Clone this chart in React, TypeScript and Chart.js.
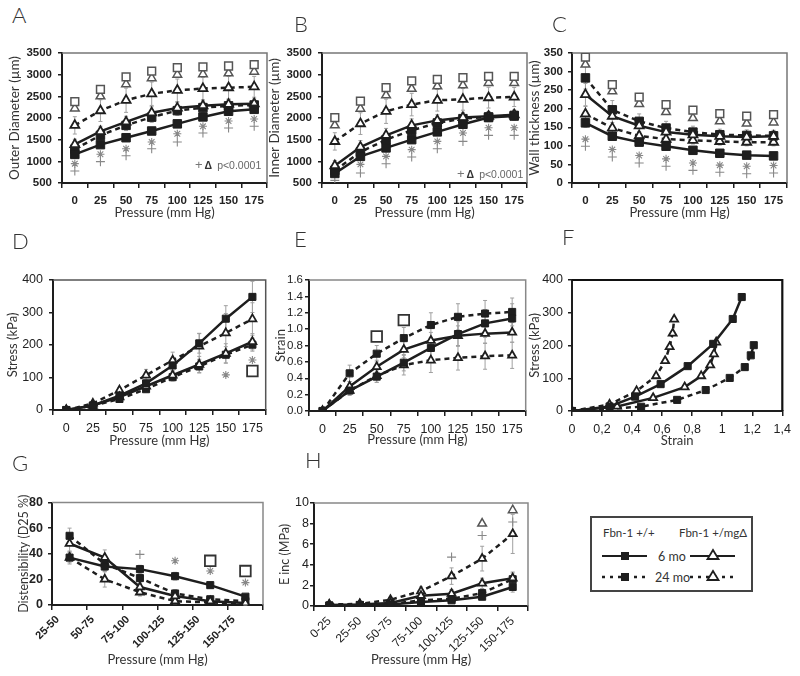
import React, { useEffect, useRef } from 'react';
import { Chart, registerables } from 'chart.js';

// ---------- plugins ----------
const errorBarPlugin = {
  id: 'errbars',
  beforeDatasetsDraw(chart: any) {
    const { ctx } = chart;
    chart.data.datasets.forEach((ds: any, i: number) => {
      if (!ds.errors) return;
      const meta = chart.getDatasetMeta(i);
      const ys = chart.scales[meta.yAxisID];
      ctx.save();
      ctx.strokeStyle = '#a0a0a0';
      ctx.lineWidth = 1;
      meta.data.forEach((pt: any, j: number) => {
        const e = ds.errors[j];
        const raw = ds.data[j];
        if (!e || raw == null) return;
        const v = typeof raw === 'object' ? raw.y : raw;
        const y1 = ys.getPixelForValue(v - e);
        const y2 = ys.getPixelForValue(v + e);
        ctx.beginPath();
        ctx.moveTo(pt.x, y1); ctx.lineTo(pt.x, y2);
        ctx.moveTo(pt.x - 2, y2); ctx.lineTo(pt.x + 2, y2);
        ctx.moveTo(pt.x - 2, y1); ctx.lineTo(pt.x + 2, y1);
        ctx.stroke();
      });
      ctx.restore();
    });
  },
};

const framePlugin = {
  id: 'frame',
  beforeDatasetsDraw(chart: any, _args: any, opts: any) {
    if (!opts || !opts.color) return;
    const { ctx, chartArea: a } = chart;
    ctx.save();
    ctx.strokeStyle = opts.color;
    ctx.lineWidth = opts.width || 1.5;
    ctx.beginPath();
    ctx.moveTo(a.left, a.top);
    ctx.lineTo(a.right, a.top);
    ctx.lineTo(a.right, a.bottom);
    ctx.stroke();
    ctx.restore();
  },
};

Chart.register(...registerables, errorBarPlugin, framePlugin);

// ---------- data ----------
const PRESSURES = ['0', '25', '50', '75', '100', '125', '150', '175'];
const RANGES_G = ['25-50', '50-75', '75-100', '100-125', '125-150', '150-175'];
const RANGES_H = ['0-25', '25-50', '50-75', '75-100', '100-125', '125-150', '150-175'];

// A: outer diameter (µm)
const A_WT6 = [1160, 1385, 1545, 1700, 1865, 2025, 2155, 2200];
const A_MG6 = [1390, 1690, 1910, 2120, 2230, 2285, 2315, 2330];
const A_WT24 = [1280, 1600, 1830, 2020, 2170, 2240, 2280, 2300];
const A_MG24 = [1830, 2170, 2410, 2560, 2640, 2680, 2700, 2720];
const A_WT6_ERR = [90, 60, 60, 60, 70, 70, 70, 70];
const A_MG6_ERR = [120, 120, 130, 140, 130, 110, 110, 110];
const A_WT24_ERR = [100, 110, 120, 120, 110, 110, 110, 110];
const A_MG24_ERR = [200, 250, 280, 270, 260, 260, 260, 240];
const A_SQ = [2380, 2660, 2950, 3080, 3160, 3180, 3200, 3230];
const A_TRI = [2220, 2500, 2780, 2920, 3000, 3010, 3030, 3070];
const A_AST = [946, 1162, 1292, 1446, 1638, 1808, 1930, 1977];
const A_PLUS = [777, 993, 1130, 1292, 1446, 1654, 1770, 1808];

// B: inner diameter (µm)
const B_WT6 = [720, 1115, 1310, 1500, 1680, 1855, 2010, 2045];
const B_MG6 = [900, 1330, 1600, 1830, 1945, 2010, 2040, 2075];
const B_WT24 = [790, 1215, 1500, 1715, 1885, 1985, 2025, 2060];
const B_MG24 = [1460, 1870, 2155, 2310, 2410, 2430, 2470, 2485];
const B_WT6_ERR = [80, 70, 70, 70, 70, 70, 70, 70];
const B_MG6_ERR = [120, 150, 160, 150, 130, 120, 110, 110];
const B_WT24_ERR = [100, 110, 120, 120, 110, 110, 110, 110];
const B_MG24_ERR = [200, 250, 280, 260, 250, 250, 240, 220];
const B_SQ = [2010, 2390, 2700, 2855, 2890, 2930, 2960, 2960];
const B_TRI = [1830, 2215, 2525, 2675, 2730, 2755, 2810, 2810];
const B_AST = [730, 930, 1115, 1270, 1460, 1655, 1775, 1775];
const B_PLUS = [560, 730, 945, 1100, 1290, 1460, 1600, 1600];

// C: wall thickness (µm)
const C_WT6 = [162, 126, 110, 99, 88, 80, 75, 73];
const C_MG6 = [238, 180, 154, 137, 130, 126, 124, 126];
const C_WT24 = [283, 197, 166, 148, 137, 130, 128, 127];
const C_MG24 = [186, 148, 127, 118, 115, 112, 110, 110];
const C_WT6_ERR = [12, 10, 8, 8, 6, 6, 6, 6];
const C_MG6_ERR = [30, 25, 18, 15, 15, 14, 14, 14];
const C_WT24_ERR = [30, 25, 20, 18, 16, 15, 15, 15];
const C_MG24_ERR = [20, 15, 12, 12, 10, 10, 10, 10];
const C_SQ = [339, 265, 231, 211, 196, 187, 180, 184];
const C_TRI = [319, 247, 213, 191, 175, 166, 160, 163];
const C_AST = [118, 90, 74, 65, 54, 48, 45, 47];
const C_PLUS = [99, 70, 54, 45, 34, 29, 25, 27];

// D: stress (kPa)
const D_WT6 = [0, 14, 44, 82, 137, 205, 281, 348];
const D_MG6 = [0, 14, 40, 73, 107, 140, 174, 210];
const D_WT24 = [0, 13, 34, 64, 101, 134, 170, 201];
const D_MG24 = [0, 20, 61, 107, 153, 196, 237, 280];
const D_WT6_ERR = [0, 3, 6, 10, 15, 30, 40, 48];
const D_MG6_ERR = [0, 3, 6, 8, 12, 25, 30, 25];
const D_WT24_ERR = [0, 3, 5, 8, 12, 20, 25, 20];
const D_MG24_ERR = [0, 4, 8, 18, 25, 40, 60, 50];
const D_AST = [null, null, null, null, null, null, 108, 154];
const D_SQ = [null, null, null, null, null, null, null, 120];

// E: strain
const E_WT6 = [0, 0.25, 0.42, 0.59, 0.77, 0.94, 1.07, 1.13];
const E_MG6 = [0, 0.3, 0.54, 0.75, 0.86, 0.92, 0.945, 0.96];
const E_WT24 = [0, 0.46, 0.7, 0.89, 1.05, 1.15, 1.19, 1.21];
const E_MG24 = [0, 0.25, 0.43, 0.56, 0.62, 0.65, 0.67, 0.68];
const E_WT6_ERR = [0, 0.05, 0.07, 0.1, 0.12, 0.15, 0.17, 0.18];
const E_MG6_ERR = [0, 0.06, 0.08, 0.1, 0.1, 0.12, 0.12, 0.12];
const E_WT24_ERR = [0, 0.1, 0.1, 0.13, 0.15, 0.16, 0.16, 0.17];
const E_MG24_ERR = [0, 0.06, 0.08, 0.12, 0.15, 0.15, 0.16, 0.16];
const E_SQ = [null, null, 0.91, 1.11, null, null, null, null];

// G: distensibility (D25 %)
const G_WT6 = [37, 30, 28, 22.5, 15.5, 6.5];
const G_MG6 = [48, 37, 14, 7, 3, 1.5];
const G_WT24 = [54, 32, 21, 9, 4.5, 3];
const G_MG24 = [37, 20, 10, 3, 2, 1];
const G_WT6_ERR = [4, 4, 3, 3, 2, 1];
const G_MG6_ERR = [6, 6, 4, 2, 1, 1];
const G_WT24_ERR = [6, 5, 4, 3, 2, 1];
const G_MG24_ERR = [5, 6, 3, 2, 1, 1];
const G_PLUS = [null, null, 39.5, null, null, null];
const G_AST = [null, null, null, 34.5, 26.5, 17.5];
const G_SQ = [null, null, null, null, 34.5, 26.5];

// H: E inc (MPa)
const H_WT6 = [0.05, 0.1, 0.15, 0.4, 0.55, 0.9, 1.85];
const H_MG6 = [0.1, 0.15, 0.3, 1.0, 1.2, 2.2, 2.7];
const H_WT24 = [0.05, 0.1, 0.2, 0.55, 0.7, 1.25, 2.6];
const H_MG24 = [0.15, 0.2, 0.6, 1.45, 2.9, 4.6, 7.0];
const H_WT6_ERR = [0, 0, 0.05, 0.2, 0.2, 0.3, 0.5];
const H_MG6_ERR = [0, 0, 0.1, 0.3, 0.4, 0.5, 0.6];
const H_WT24_ERR = [0, 0, 0.1, 0.2, 0.3, 0.4, 0.6];
const H_MG24_ERR = [0.05, 0.05, 0.2, 0.4, 0.8, 1.2, 1.9];
const H_TRI = [null, null, null, null, null, 8.0, 9.3];
const H_PLUS = [null, null, null, null, 4.75, 6.85, 8.15];

// ---------- styling helpers ----------
const INK = '#1e1e1e';
const LATO = 'Lato, "Open Sans", sans-serif';
const BOLD_TICK = { family: '"Liberation Sans", Arial, sans-serif', size: 11.5, weight: 'bold' };
const THIN_TICK = { family: '"Liberation Sans Narrow", "Liberation Sans", Arial, sans-serif', size: 12.5 };
const THIN_TICK_S = { family: '"Liberation Sans Narrow", "Liberation Sans", Arial, sans-serif', size: 11.5 };
const THIN_TICK_H = { family: '"Liberation Sans Narrow", "Liberation Sans", Arial, sans-serif', size: 12 };
const BOLD_TICK_G = { family: '"Liberation Sans", Arial, sans-serif', size: 11, weight: 'bold' };

function series(kind: string, data: any[], errors: number[] | null, big = false) {
  const tri = kind === 'mg6' || kind === 'mg24';
  const dashed = kind === 'wt24' || kind === 'mg24';
  return {
    data,
    errors,
    borderColor: INK,
    borderWidth: 2.5,
    borderDash: dashed ? [5, 4] : [],
    pointStyle: tri ? 'triangle' : 'rect',
    pointRadius: tri ? (big ? 5.2 : 4.6) : big ? 6 : 5,
    pointBackgroundColor: tri ? '#ffffff' : INK,
    pointBorderColor: INK,
    pointBorderWidth: tri ? 1.8 : 1,
    fill: false,
    tension: 0,
  };
}

function marks(kind: string, data: any[]) {
  const styles: any = {
    sq: { pointStyle: 'rect', pointRadius: 5.5, pointBackgroundColor: '#fff', pointBorderColor: '#555', pointBorderWidth: 1.5 },
    big: { pointStyle: 'rect', pointRadius: 7.5, pointBackgroundColor: '#fff', pointBorderColor: '#333', pointBorderWidth: 1.8 },
    tri: { pointStyle: 'triangle', pointRadius: 5, pointBackgroundColor: '#fff', pointBorderColor: '#555', pointBorderWidth: 1.5 },
    ast: { pointStyle: 'star', pointRadius: 4, pointBorderColor: '#888', pointBorderWidth: 1.1 },
    plus: { pointStyle: 'cross', pointRadius: 4.5, pointBorderColor: '#888', pointBorderWidth: 1.1 },
  };
  return { data, showLine: false, ...styles[kind] };
}

type Geo = { cl: number; ct: number; cw: number; ch: number; pl: number; pt: number; pr: number; pb: number };

function baseOptions(g: Geo, frame: string, frameWidth = 1.5) {
  return {
    responsive: false,
    animation: false,
    layout: { padding: { left: 0, top: g.pt - g.ct, right: g.cl + g.cw - g.pr, bottom: 0 } },
    plugins: { legend: { display: false }, tooltip: { enabled: false }, frame: { color: frame, width: frameWidth } },
  };
}

function yScale(g: Geo, o: any) {
  return {
    type: 'linear',
    min: o.min,
    max: o.max,
    grid: { drawOnChartArea: false, tickLength: 4, color: INK, lineWidth: 1.5 },
    border: { color: INK, width: 2 },
    ticks: { stepSize: o.step, autoSkip: false, font: o.font, color: '#222', padding: o.pad, callback: o.fmt || ((v: any) => String(v)) },
    title: { display: true, text: o.title, font: { family: LATO, size: o.titleSize || 13 }, color: '#333', padding: { top: o.titlePad, bottom: 0 } },
    afterFit: (s: any) => { s.width = g.pl - g.cl; },
  };
}

function xCat(g: Geo, o: any) {
  return {
    type: 'category',
    offset: true,
    grid: { offset: true, drawOnChartArea: false, tickLength: 5, color: INK, lineWidth: 1.5 },
    border: { color: INK, width: 2 },
    ticks: {
      font: o.font, color: '#222', padding: o.pad, autoSkip: false,
      maxRotation: o.rot || 0, minRotation: o.rot || 0, labelOffset: o.labelOffset || 0,
    },
    title: { display: true, text: o.title || 'Pressure (mm Hg)', font: { family: LATO, size: 13 }, color: '#333', padding: { top: 0, bottom: o.titlePad } },
    afterFit: (s: any) => { s.height = g.ct + g.ch - g.pb; },
  };
}

// ---------- geometry ----------
const GEO_A: Geo = { cl: 0, ct: 40, cw: 275, ch: 188, pl: 62, pt: 53, pr: 267, pb: 183 };
const GEO_B: Geo = { cl: 260, ct: 40, cw: 275, ch: 188, pl: 322, pt: 53, pr: 527, pb: 183 };
const GEO_C: Geo = { cl: 520, ct: 40, cw: 275, ch: 188, pl: 572, pt: 53, pr: 787, pb: 183 };
const GEO_D: Geo = { cl: 0, ct: 265, cw: 275, ch: 185, pl: 53, pt: 280, pr: 267, pb: 410 };
const GEO_E: Geo = { cl: 270, ct: 265, cw: 265, ch: 185, pl: 309, pt: 280, pr: 527, pb: 411 };
const GEO_F: Geo = { cl: 522, ct: 265, cw: 275, ch: 185, pl: 572, pt: 280, pr: 785, pb: 411 };
const GEO_G: Geo = { cl: 8, ct: 490, cw: 265, ch: 182, pl: 52, pt: 502, pr: 263, pb: 605 };
const GEO_H: Geo = { cl: 270, ct: 490, cw: 268, ch: 182, pl: 314, pt: 503, pr: 528, pb: 606 };

function diamConfig(g: Geo, title: string, wt6: number[], mg6: number[], wt24: number[], mg24: number[], errs: number[][], sq: number[], tri: number[], ast: number[], plus: number[], min: number, max: number, step: number, ypad: number) {
  return {
    type: 'line',
    data: {
      labels: PRESSURES,
      datasets: [
        series('wt6', wt6, errs[0], true),
        series('mg6', mg6, errs[1], true),
        series('wt24', wt24, errs[2], true),
        series('mg24', mg24, errs[3], true),
        marks('sq', sq),
        marks('tri', tri),
        marks('ast', ast),
        marks('plus', plus),
      ],
    },
    options: {
      ...baseOptions(g, '#777'),
      scales: {
        x: xCat(g, { font: BOLD_TICK, pad: 6, titlePad: 7 }),
        y: yScale(g, { min, max, step, font: BOLD_TICK, pad: ypad, title, titleSize: 13.5, titlePad: 7 }),
      },
    },
  };
}

const CONFIG_A = diamConfig(GEO_A, 'Outer Diameter (µm)', A_WT6, A_MG6, A_WT24, A_MG24, [A_WT6_ERR, A_MG6_ERR, A_WT24_ERR, A_MG24_ERR], A_SQ, A_TRI, A_AST, A_PLUS, 500, 3500, 500, 6);
const CONFIG_B = diamConfig(GEO_B, 'Inner Diameter (µm)', B_WT6, B_MG6, B_WT24, B_MG24, [B_WT6_ERR, B_MG6_ERR, B_WT24_ERR, B_MG24_ERR], B_SQ, B_TRI, B_AST, B_PLUS, 500, 3500, 500, 6);
const CONFIG_C = diamConfig(GEO_C, 'Wall thickness (µm)', C_WT6, C_MG6, C_WT24, C_MG24, [C_WT6_ERR, C_MG6_ERR, C_WT24_ERR, C_MG24_ERR], C_SQ, C_TRI, C_AST, C_PLUS, 0, 350, 50, 5);

const CONFIG_D = {
  type: 'line',
  data: {
    labels: PRESSURES,
    datasets: [
      series('wt6', D_WT6, D_WT6_ERR),
      series('mg6', D_MG6, D_MG6_ERR),
      series('wt24', D_WT24, D_WT24_ERR),
      series('mg24', D_MG24, D_MG24_ERR),
      marks('ast', D_AST),
      marks('big', D_SQ),
    ],
  },
  options: {
    ...baseOptions(GEO_D, '#555'),
    scales: {
      x: xCat(GEO_D, { font: THIN_TICK, pad: 6, titlePad: 1 }),
      y: yScale(GEO_D, { min: 0, max: 400, step: 100, font: THIN_TICK, pad: 6, title: 'Stress (kPa)', titlePad: 5 }),
    },
  },
};

const CONFIG_E = {
  type: 'line',
  data: {
    labels: PRESSURES,
    datasets: [
      series('wt6', E_WT6, E_WT6_ERR),
      series('mg6', E_MG6, E_MG6_ERR),
      series('wt24', E_WT24, E_WT24_ERR),
      series('mg24', E_MG24, E_MG24_ERR),
      marks('big', E_SQ),
    ],
  },
  options: {
    ...baseOptions(GEO_E, '#888'),
    scales: {
      x: xCat(GEO_E, { font: THIN_TICK, pad: 6, titlePad: 2 }),
      y: yScale(GEO_E, { min: 0, max: 1.6, step: 0.2, font: THIN_TICK_S, pad: 2, title: 'Strain', titlePad: 3, fmt: (v: any) => Number(v).toFixed(1) }),
    },
  },
};

const zip = (xs: number[], ys: number[]) => xs.map((x, i) => ({ x, y: ys[i] }));

const CONFIG_F = {
  type: 'line',
  data: {
    datasets: [
      series('wt6', zip(E_WT6, D_WT6), null),
      series('mg6', zip(E_MG6, D_MG6), null),
      series('wt24', zip(E_WT24, D_WT24), null),
      series('mg24', zip(E_MG24, D_MG24), null),
    ],
  },
  options: {
    ...baseOptions(GEO_F, '#111', 2.2),
    scales: {
      x: {
        type: 'linear', min: 0, max: 1.4,
        grid: { drawOnChartArea: false, tickLength: 5, color: INK, lineWidth: 1.5 },
        border: { color: INK, width: 2 },
        ticks: { stepSize: 0.2, font: THIN_TICK, color: '#222', padding: 6, maxRotation: 0, callback: (v: any) => String(Math.round(Number(v) * 10) / 10).replace('.', ',') },
        title: { display: true, text: 'Strain', font: { family: LATO, size: 13 }, color: '#333', padding: { top: 0, bottom: 1 } },
        afterFit: (s: any) => { s.height = GEO_F.ct + GEO_F.ch - GEO_F.pb; },
      },
      y: yScale(GEO_F, { min: 0, max: 400, step: 100, font: THIN_TICK, pad: 5, title: 'Stress (kPa)', titlePad: 5 }),
    },
  },
};

const CONFIG_G = {
  type: 'line',
  data: {
    labels: RANGES_G,
    datasets: [
      series('wt6', G_WT6, G_WT6_ERR),
      series('mg6', G_MG6, G_MG6_ERR),
      series('wt24', G_WT24, G_WT24_ERR),
      series('mg24', G_MG24, G_MG24_ERR),
      marks('plus', G_PLUS),
      marks('ast', G_AST),
      marks('big', G_SQ),
    ],
  },
  options: {
    ...baseOptions(GEO_G, '#888'),
    scales: {
      x: xCat(GEO_G, { font: BOLD_TICK_G, pad: 3, titlePad: 4, rot: 45, labelOffset: -12 }),
      y: yScale(GEO_G, { min: 0, max: 80, step: 20, font: { ...BOLD_TICK, size: 12.5 }, pad: 5, title: 'Distensibility (D25 %)', titleSize: 12.5, titlePad: 8.5 }),
    },
  },
};

const CONFIG_H = {
  type: 'line',
  data: {
    labels: RANGES_H,
    datasets: [
      series('wt6', H_WT6, H_WT6_ERR),
      series('mg6', H_MG6, H_MG6_ERR),
      series('wt24', H_WT24, H_WT24_ERR),
      series('mg24', H_MG24, H_MG24_ERR),
      marks('tri', H_TRI),
      marks('plus', H_PLUS),
    ],
  },
  options: {
    ...baseOptions(GEO_H, '#888'),
    scales: {
      x: xCat(GEO_H, { font: THIN_TICK_H, pad: 3, titlePad: 4, rot: 45 }),
      y: yScale(GEO_H, { min: 0, max: 10, step: 2, font: THIN_TICK, pad: 1, title: 'E inc (MPa)', titleSize: 12.5, titlePad: 7 }),
    },
  },
};

// ---------- components ----------
function ChartCanvas({ geo, config }: { geo: Geo; config: any }) {
  const ref = useRef<HTMLCanvasElement>(null);
  useEffect(() => {
    const chart = new Chart(ref.current as HTMLCanvasElement, config);
    return () => chart.destroy();
  }, []);
  return (
    <canvas
      ref={ref}
      width={geo.cw}
      height={geo.ch}
      style={{ position: 'absolute', left: geo.cl, top: geo.ct, width: geo.cw, height: geo.ch }}
    />
  );
}

function Letter({ text, x, y }: { text: string; x: number; y: number }) {
  return (
    <div style={{ position: 'absolute', left: x, top: y, fontFamily: LATO, fontWeight: 300, fontSize: 22, lineHeight: '22px', color: '#333' }}>
      {text}
    </div>
  );
}

function PNote({ x, y }: { x: number; y: number }) {
  return (
    <div style={{ position: 'absolute', left: x, top: y, whiteSpace: 'nowrap', fontFamily: '"Liberation Sans", Arial, sans-serif', fontSize: 10.5, lineHeight: '12px', color: '#666' }}>
      <span style={{ fontSize: 13, color: '#777' }}>+</span>
      <span style={{ fontWeight: 'bold', color: '#333', marginLeft: 2 }}>Δ</span>
      <span style={{ marginLeft: 5 }}>p&lt;0.0001</span>
    </div>
  );
}

function Legend() {
  const tri = (cx: number, cy: number) => `${cx},${cy - 5} ${cx - 5.5},${cy + 4} ${cx + 5.5},${cy + 4}`;
  return (
    <svg width={165} height={78} style={{ position: 'absolute', left: 589, top: 515 }}>
      <rect x={2} y={2} width={161} height={74} fill="#fff" stroke="#444" strokeWidth={2} />
      <text x={14} y={22} fontFamily={LATO} fontSize={11.5} fill="#333">Fbn-1 +/+</text>
      <text x={90} y={22} fontFamily={LATO} fontSize={11.5} fill="#333">Fbn-1 +/mgΔ</text>
      <line x1={13} y1={41} x2={58} y2={41} stroke={INK} strokeWidth={2} />
      <rect x={32} y={37} width={8} height={8} fill={INK} />
      <text x={69} y={45.5} fontFamily={LATO} fontSize={12.5} fill="#333">6 mo</text>
      <line x1={101} y1={41} x2={146} y2={41} stroke={INK} strokeWidth={2} />
      <polygon points={tri(124, 40)} fill="#fff" stroke={INK} strokeWidth={1.8} />
      <line x1={13} y1={62} x2={58} y2={62} stroke={INK} strokeWidth={2.5} strokeDasharray="3,5" />
      <rect x={32} y={58} width={8} height={8} fill={INK} />
      <text x={66} y={66.5} fontFamily={LATO} fontSize={12.5} fill="#333">24 mo</text>
      <line x1={101} y1={62} x2={146} y2={62} stroke={INK} strokeWidth={2.5} strokeDasharray="3,5" />
      <polygon points={tri(124, 61)} fill="#fff" stroke={INK} strokeWidth={1.8} />
    </svg>
  );
}

export default function App() {
  return (
    <div style={{ position: 'absolute', left: 0, top: 0, width: 800, height: 676, background: '#fff', overflow: 'hidden', fontFamily: LATO }}>
      <ChartCanvas geo={GEO_A} config={CONFIG_A} />
      <ChartCanvas geo={GEO_B} config={CONFIG_B} />
      <ChartCanvas geo={GEO_C} config={CONFIG_C} />
      <ChartCanvas geo={GEO_D} config={CONFIG_D} />
      <ChartCanvas geo={GEO_E} config={CONFIG_E} />
      <ChartCanvas geo={GEO_F} config={CONFIG_F} />
      <ChartCanvas geo={GEO_G} config={CONFIG_G} />
      <ChartCanvas geo={GEO_H} config={CONFIG_H} />
      <Letter text="A" x={12} y={4} />
      <Letter text="B" x={294} y={13} />
      <Letter text="C" x={552} y={13} />
      <Letter text="D" x={12} y={230} />
      <Letter text="E" x={294} y={228} />
      <Letter text="F" x={562} y={226} />
      <Letter text="G" x={12} y={452} />
      <Letter text="H" x={305} y={449} />
      <PNote x={195} y={159} />
      <PNote x={457} y={168} />
      <Legend />
    </div>
  );
}
